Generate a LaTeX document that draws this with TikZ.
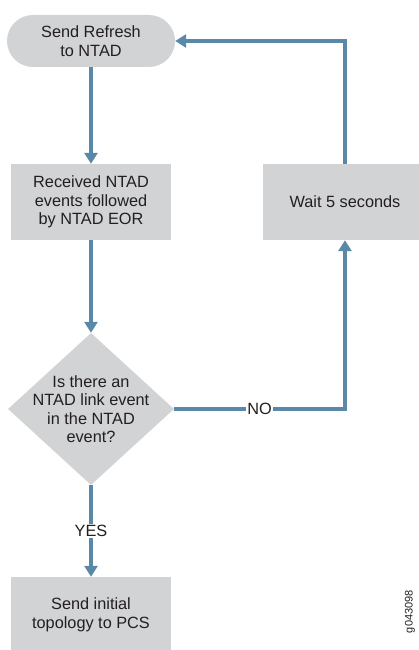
\documentclass[tikz,border=0pt]{standalone}
\usepackage{fontspec}
\setmainfont{Liberation Sans}
\usetikzlibrary{shapes.geometric,shapes.misc,arrows.meta}
\definecolor{boxgray}{HTML}{D1D3D4}
\definecolor{flowblue}{HTML}{5A88A8}
\definecolor{txt}{HTML}{231F20}
\tikzset{
  base/.style={fill=boxgray, draw=none, text=txt, align=center, inner sep=0pt,
               font=\fontsize{16.3}{18.5}\selectfont},
  pill/.style={base, rounded rectangle, minimum width=168pt, minimum height=52pt},
  procbox/.style={base, rectangle, minimum width=160pt, minimum height=76pt},
  decbox/.style={base, diamond, minimum width=166pt, minimum height=152pt},
  flow/.style={draw=flowblue, line width=3.4pt, -{Triangle[width=13pt,length=11pt]}},
  flowlabel/.style={fill=white, text=txt, inner sep=1.5pt, font=\fontsize{16.3}{18.5}\selectfont},
}
\begin{document}
\begin{tikzpicture}[x=1pt,y=-1pt]
\useasboundingbox (0,0) rectangle (419,650);
\clip (0,0) rectangle (419,650);
\node[pill] (start) at (91,41) {Send Refresh\\to NTAD};
\node[procbox] (recv) at (91,202) {Received NTAD\\events followed\\by NTAD EOR};
\node[decbox, label={[align=center, text=txt, font=\fontsize{16.3}{18.5}\selectfont]center:Is there an\\NTAD link event\\in the NTAD\\event?}] (dec) at (91,409) {};
\node[procbox] (send) at (91,615) {Send initial\\topology to PCS};
\node[procbox, minimum width=164pt] (wait) at (345,202) {Wait 5 seconds};
\node[rotate=90, anchor=east, text=txt, inner sep=0pt, font=\fontsize{11}{12}\selectfont] (fig) at (410,590) {g043098};

\draw[flow] (start.south) -- (recv.north);
\draw[flow] (recv.south) -- (dec.north);
\draw[flow] (dec.south) -- node[flowlabel, pos=0.5] {YES} (send.north);
\draw[flow] (dec.east) -- node[flowlabel, pos=0.5] {NO} (dec.east -| wait.south) -- (wait.south);
\draw[flow] (wait.north) |- (start.east);
\end{tikzpicture}
\end{document}
